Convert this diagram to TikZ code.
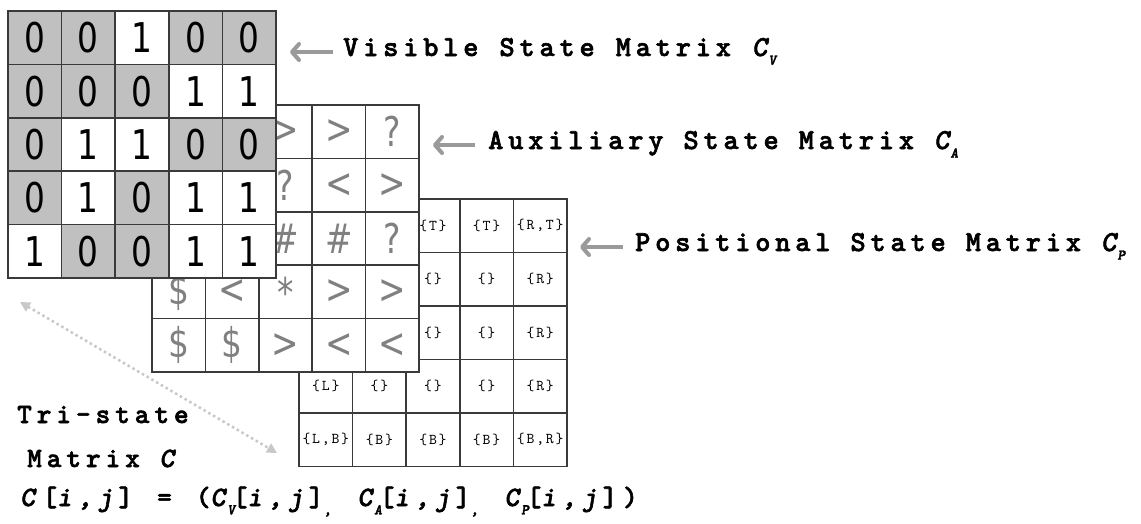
\documentclass[tikz,border=0pt]{standalone}
\usepackage{fontspec}
\usetikzlibrary{arrows.meta}
\newfontfamily\cellfont{DejaVu Sans}
\newfontfamily\lblfont[Extension=.otf, UprightFont=*-bold, BoldFont=*-bold, ItalicFont=*-boldoblique, BoldItalicFont=*-boldoblique, LetterSpace=16.5, FakeBold=2]{lmmonolt10}
\newfontfamily\trifont[Extension=.otf, UprightFont=*-bold, BoldFont=*-bold, ItalicFont=*-boldoblique, BoldItalicFont=*-boldoblique, LetterSpace=17.5, FakeBold=2]{lmmonolt10}
\newfontfamily\frmfont[Extension=.otf, UprightFont=*-bold, BoldFont=*-bold, ItalicFont=*-boldoblique, BoldItalicFont=*-boldoblique, LetterSpace=20.5, FakeBold=2]{lmmonolt10}
\newfontfamily\posfont[Extension=.otf, LetterSpace=12]{lmmono10-regular}
\newcommand\wsp[1]{\hspace*{#1}}
\definecolor{vfill0}{HTML}{C0C0C0}
\definecolor{vfill1}{HTML}{FFFFFF}
\definecolor{cellline}{HTML}{3A3A3A}
\definecolor{auxtext}{HTML}{808080}
\definecolor{arrowgray}{HTML}{9A9A9A}
\definecolor{dotgray}{HTML}{C8C8C8}
\newcommand\dg[1]{\scalebox{0.8}[1]{#1}}
\newcommand\sbs[1]{\kern-5.5pt\rlap{\raisebox{-0.3em}{\fontsize{15}{15}\selectfont\itshape #1}}\kern5.5pt}
\newcommand\lcomma{\makebox[16pt][l]{\raisebox{-0.3em}{\fontsize{16}{16}\selectfont\itshape,}}}
\newcommand\vcell[3]{\node[vcell, fill=vfill#3] (v-#1-#2) at ({8+53.6*(#2-0.5)},{11+53.4*(#1-0.5)}) {\dg{#3}};}
\newcommand\acell[3]{\node[acell] (a-#1-#2) at ({152+53.4*(#2-0.5)},{105+53.4*(#1-0.5)}) {\dg{#3}};}
\newcommand\pcell[3]{\node[pcell] (p-#1-#2) at ({299+53.6*(#2-0.5)},{199+53.5*(#1-0.5)}) {#3};}
\tikzset{
  cellbase/.style={draw=cellline, line width=1.5pt, minimum width=53.5pt, minimum height=53.5pt, inner sep=0pt, outer sep=0pt, fill=white},
  vcell/.style={cellbase, font=\cellfont\fontsize{41}{41}\selectfont},
  acell/.style={cellbase, text=auxtext, font=\cellfont\fontsize{41}{41}\selectfont},
  pcell/.style={cellbase, font=\posfont\fontsize{15}{15}\selectfont},
  lbl/.style={inner sep=0pt, font=\lblfont\fontsize{29}{32}\selectfont},
  tri/.style={inner sep=0pt, font=\trifont\fontsize{28}{32}\selectfont},
  frm/.style={inner sep=0pt, font=\frmfont\fontsize{28}{32}\selectfont},
  lblarrow/.style={draw=arrowgray, line width=4pt, -{Straight Barb[length=7pt,width=16pt,round]}},
  dotarrow/.style={draw=dotgray, line width=2.5pt, dash pattern=on 2.5pt off 3pt,
    {Triangle[length=10pt,width=10pt]}-{Triangle[length=10pt,width=10pt]}}
}
\begin{document}
\begin{tikzpicture}[x=1pt,y=-1pt]
\fill[white] (0,0) rectangle (1141,523);
\useasboundingbox (0,0) rectangle (1141,523);
% positional state matrix
\pcell{1}{1}{}\pcell{1}{2}{}\pcell{1}{3}{\{T\}}\pcell{1}{4}{\{T\}}\pcell{1}{5}{\{R,T\}}
\pcell{2}{1}{}\pcell{2}{2}{}\pcell{2}{3}{\{\}}\pcell{2}{4}{\{\}}\pcell{2}{5}{\{R\}}
\pcell{3}{1}{}\pcell{3}{2}{}\pcell{3}{3}{\{\}}\pcell{3}{4}{\{\}}\pcell{3}{5}{\{R\}}
\pcell{4}{1}{\{L\}}\pcell{4}{2}{\{\}}\pcell{4}{3}{\{\}}\pcell{4}{4}{\{\}}\pcell{4}{5}{\{R\}}
\pcell{5}{1}{\{L,B\}}\pcell{5}{2}{\{B\}}\pcell{5}{3}{\{B\}}\pcell{5}{4}{\{B\}}\pcell{5}{5}{\{B,R\}}
% auxiliary state matrix
\acell{1}{1}{}\acell{1}{2}{}\acell{1}{3}{>}\acell{1}{4}{>}\acell{1}{5}{?}
\acell{2}{1}{}\acell{2}{2}{}\acell{2}{3}{?}\acell{2}{4}{<}\acell{2}{5}{>}
\acell{3}{1}{}\acell{3}{2}{}\acell{3}{3}{\#}\acell{3}{4}{\#}\acell{3}{5}{?}
\acell{4}{1}{\$}\acell{4}{2}{<}\acell{4}{3}{*}\acell{4}{4}{>}\acell{4}{5}{>}
\acell{5}{1}{\$}\acell{5}{2}{\$}\acell{5}{3}{>}\acell{5}{4}{<}\acell{5}{5}{<}
% visible state matrix
\vcell{1}{1}{0}\vcell{1}{2}{0}\vcell{1}{3}{1}\vcell{1}{4}{0}\vcell{1}{5}{0}
\vcell{2}{1}{0}\vcell{2}{2}{0}\vcell{2}{3}{0}\vcell{2}{4}{1}\vcell{2}{5}{1}
\vcell{3}{1}{0}\vcell{3}{2}{1}\vcell{3}{3}{1}\vcell{3}{4}{0}\vcell{3}{5}{0}
\vcell{4}{1}{0}\vcell{4}{2}{1}\vcell{4}{3}{0}\vcell{4}{4}{1}\vcell{4}{5}{1}
\vcell{5}{1}{1}\vcell{5}{2}{0}\vcell{5}{3}{0}\vcell{5}{4}{1}\vcell{5}{5}{1}
% labels
\node[lbl, anchor=base west] (lv) at (343,56) {Visible\wsp{21pt}State\wsp{21pt}Matrix\wsp{21pt}\textit{C}\sbs{V}};
\node[lbl, anchor=base west] (la) at (488,149) {Auxiliary\wsp{20pt}State\wsp{20pt}Matrix\wsp{20pt}\textit{C}\sbs{A}};
\node[lbl, anchor=base west] (lp) at (635,251) {Positional\wsp{20pt}State\wsp{20pt}Matrix\wsp{20pt}\textit{C}\sbs{P}};
\coordinate (va-s) at (333,52); \coordinate (va-e) at (290,52);
\coordinate (aa-s) at (475,145); \coordinate (aa-e) at (433,145);
\coordinate (pa-s) at (623,247); \coordinate (pa-e) at (580,247);
\draw[lblarrow] (va-s) -- (va-e);
\draw[lblarrow] (aa-s) -- (aa-e);
\draw[lblarrow] (pa-s) -- (pa-e);
% tri-state label
\node[tri, anchor=base west] (t1) at (17,423) {Tri-state};
\node[tri, anchor=base west] (t2) at (27,467) {Matrix\wsp{19.6pt}\textit{C}};
\coordinate (d1) at (20,302); \coordinate (d2) at (277,453);
\draw[dotarrow] (d1) -- (d2);
% formula
\node[frm, anchor=base west] (f) at (20,506) {\textit{C}[\textit{i,j}]\wsp{24pt}=\wsp{24pt}(\textit{C}\sbs{V}[\textit{i,j}]\lcomma\wsp{18pt}\textit{C}\sbs{A}[\textit{i,j}]\lcomma\wsp{18pt}\textit{C}\sbs{P}[\textit{i,j}])};
\end{tikzpicture}
\end{document}
